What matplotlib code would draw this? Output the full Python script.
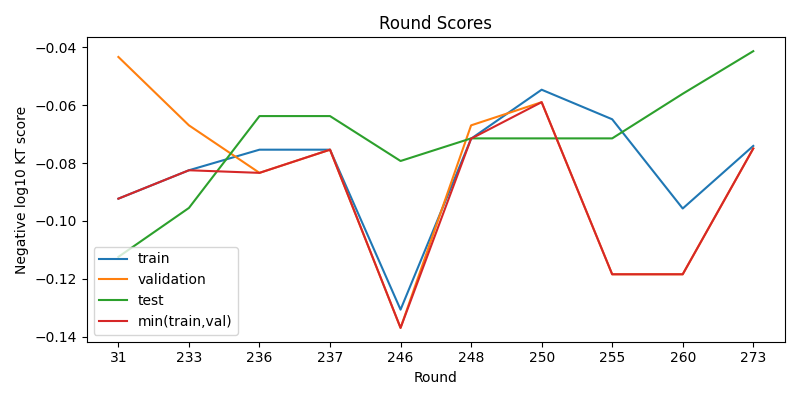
import numpy as np
import matplotlib
matplotlib.use("Agg")
import matplotlib.pyplot as plt

rounds = ["31", "233", "236", "237", "246", "248", "250", "255", "260", "273"]
train = [-0.0923, -0.0825, -0.0754, -0.0754, -0.1306, -0.0716, -0.0547, -0.0649, -0.0957, -0.0741]
validation = [-0.0434, -0.0670, -0.0834, -0.0754, -0.1369, -0.0670, -0.0590, -0.1184, -0.1184, -0.0750]
test = [-0.1124, -0.0955, -0.0638, -0.0638, -0.0793, -0.0715, -0.0715, -0.0715, -0.0561, -0.0414]
min_train_val = np.minimum(train, validation)

plt.figure(figsize=(8, 4), dpi=100)
plt.plot(rounds, train, label="train")
plt.plot(rounds, validation, label="validation")
plt.plot(rounds, test, label="test")
plt.plot(rounds, min_train_val, label="min(train,val)")
plt.title("Round Scores")
plt.xlabel("Round")
plt.ylabel("Negative log10 KT score")
plt.legend(loc="lower left")
plt.tight_layout()
plt.savefig("out.png")
